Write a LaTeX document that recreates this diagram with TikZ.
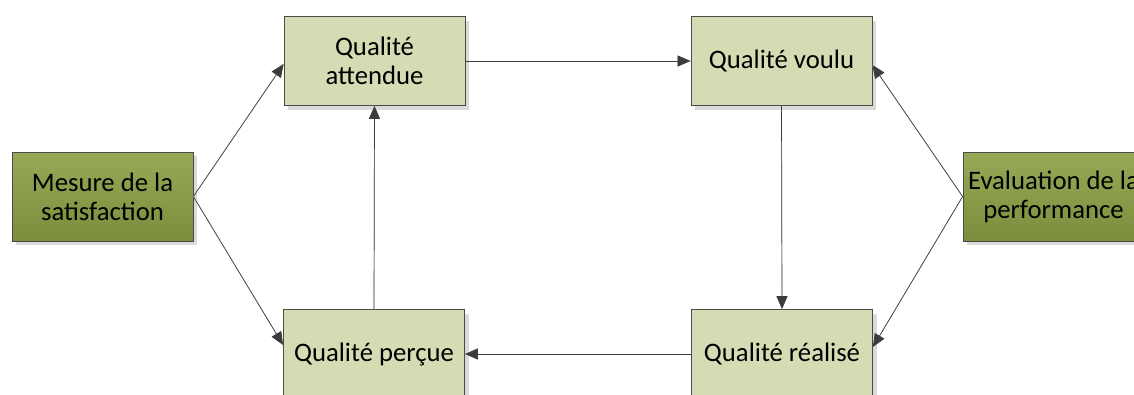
\documentclass[tikz,border=0pt]{standalone}
\usepackage{fontspec}
\setmainfont{Carlito}
\usetikzlibrary{arrows.meta,shadows}
\definecolor{lightfill}{HTML}{D3DCB2}
\definecolor{darktop}{HTML}{95A956}
\definecolor{darkbot}{HTML}{7A8E3D}
\definecolor{edge}{HTML}{4A4A4A}
\definecolor{conn}{HTML}{3C3C3C}
\definecolor{shade}{HTML}{DADADA}
\begin{document}
\begin{tikzpicture}[x=1pt,y=-1pt,
  box/.style={draw=edge, line width=0.8pt, minimum width=181pt, minimum height=89pt,
    align=center, inner sep=0pt, font=\fontsize{26.7}{29}\selectfont,
    drop shadow={shadow xshift=4pt, shadow yshift=-4pt, fill=shade, opacity=1}},
  lightbox/.style={box, fill=lightfill},
  darkbox/.style={box, top color=darktop, bottom color=darkbot},
  conn/.style={draw=conn, line width=0.7pt, -{Triangle[length=13pt,width=11pt]}},
  connshadow/.style={draw=shade, line width=0.9pt, -{Triangle[length=13pt,width=11pt]}}
]
\useasboundingbox (0,0) rectangle (1134,394);
\clip (0,0) rectangle (1134,394);

\node[lightbox] (att) at (374.5,61) {Qualité\\attendue};
\node[lightbox] (vou) at (781.5,61) {Qualité voulu};
\node[lightbox] (per) at (374,354) {Qualité perçue};
\node[lightbox] (rea) at (782,354) {Qualité réalisé};
\node[darkbox] (mes) at (102.5,196.5) {Mesure de la\\satisfaction};
\node[darkbox] (eva) at (1053.5,196.5) {Evaluation de la\\performance};

% connector shadows
\begin{scope}[xshift=2pt,yshift=-3pt]
\path[connshadow] (mes.east) -- ([yshift=-3pt]att.west);
\path[connshadow] (mes.east) -- ([yshift=9pt]per.west);
\path[connshadow] (att.east) -- (vou.west);
\path[connshadow] (vou.south) -- (rea.north);
\path[connshadow] (rea.west) -- (per.east);
\path[connshadow] (per.north) -- (att.south);
\path[connshadow] (eva.west) -- ([yshift=-4pt]vou.east);
\path[connshadow] (eva.west) -- ([yshift=7pt]rea.east);
\end{scope}

% connectors
\path[conn] (mes.east) -- ([yshift=-3pt]att.west);
\path[conn] (mes.east) -- ([yshift=9pt]per.west);
\path[conn] (att.east) -- (vou.west);
\path[conn] (vou.south) -- (rea.north);
\path[conn] (rea.west) -- (per.east);
\path[conn] (per.north) -- (att.south);
\path[conn] (eva.west) -- ([yshift=-4pt]vou.east);
\path[conn] (eva.west) -- ([yshift=7pt]rea.east);
\end{tikzpicture}
\end{document}
